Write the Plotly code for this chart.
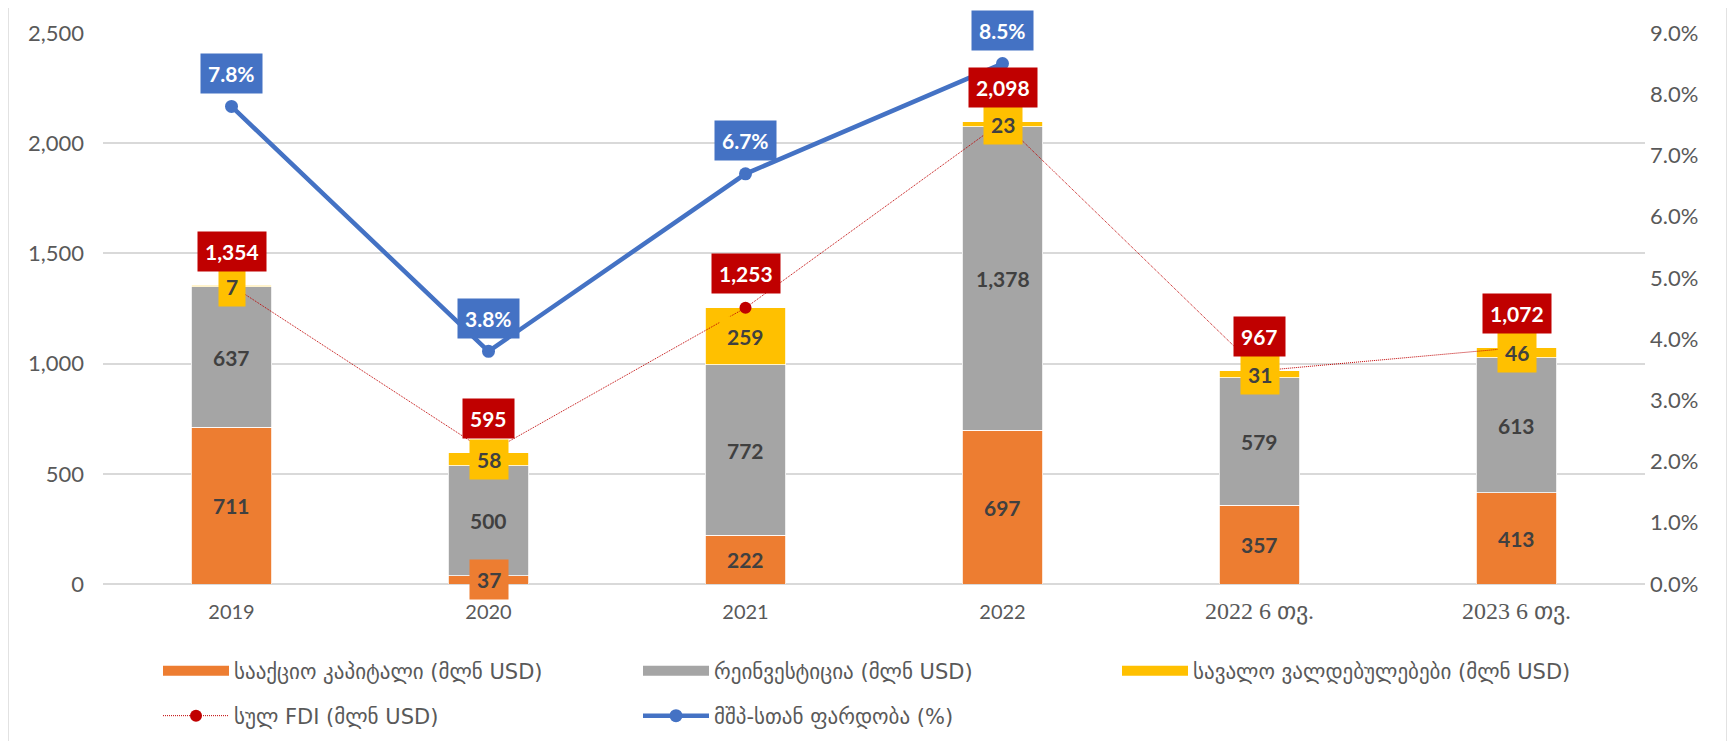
import plotly.graph_objects as go

categories = ["2019", "2020", "2021", "2022", "2022 6 თვ.", "2023 6 თვ."]
equity = [711, 37, 222, 697, 357, 413]
reinvest = [637, 500, 772, 1378, 579, 613]
debt = [7, 58, 259, 23, 31, 46]
total_fdi = [1354, 595, 1253, 2098, 967, 1072]
gdp_ratio = [7.8, 3.8, 6.7, 8.5, None, None]

names = ["სააქციო კაპიტალი (მლნ USD)", "რეინვესტიცია (მლნ USD)",
         "სავალო ვალდებულებები (მლნ USD)", "სულ FDI (მლნ USD)", "მშპ-სთან ფარდობა (%)"]

C_OR, C_GR, C_YE, C_RE, C_BL = "#ED7D31", "#A5A5A5", "#FFC000", "#C00000", "#4472C4"
NUMF = "Lato, 'Open Sans', sans-serif"
GEOF = "'DejaVu Sans', sans-serif"

# page is drawn with an 8px body margin
OFF = 8
W, H = 1735 - 2 * OFF, 749 - 2 * OFF
L, T = 103 - OFF, 33 - OFF
PW, PH = 1542, 551
def px(xp): return (xp - OFF - L) / PW
def py(yp): return (T + PH - (yp - OFF)) / PH

fig = go.Figure()
bar_legends = ["legend", "legend2", "legend3"]
for vals, col, nm in [(equity, C_OR, names[0]), (reinvest, C_GR, names[1]), (debt, C_YE, names[2])]:
    fig.add_trace(go.Bar(x=categories, y=vals, name=nm, marker_color=col,
                         marker_line=dict(color="white", width=0.8),
                         showlegend=False, hoverinfo="skip"))

fig.add_trace(go.Scatter(x=categories, y=total_fdi, name=names[3], mode="lines+markers",
                         line=dict(color=C_RE, width=1, dash="1px,1px"),
                         marker=dict(color=C_RE, size=12), legend="legend4", hoverinfo="skip"))
fig.add_trace(go.Scatter(x=categories, y=gdp_ratio, name=names[4], mode="lines+markers",
                         line=dict(color=C_BL, width=4.5), marker=dict(color=C_BL, size=13),
                         yaxis="y2", legend="legend5", hoverinfo="skip"))

# legend-only entries giving the wide bar swatches
for col, nm, lg in zip([C_OR, C_GR, C_YE], names[:3], bar_legends):
    fig.add_trace(go.Scatter(x=[None], y=[None], mode="lines", name=nm,
                             line=dict(color=col, width=15), legend=lg, hoverinfo="skip"))

ann = []
def lab(x, y, txt, bg=None, color="#404040", yref="y", yshift=0):
    d = dict(x=x, y=y, xref="x", yref=yref, text="<b>%s</b>" % txt, showarrow=False,
             font=dict(family=NUMF, size=21, color=color), yshift=yshift)
    if bg:
        d.update(bgcolor=bg, borderpad=7)
    ann.append(d)

for i, c in enumerate(categories):
    e, r, d = equity[i], reinvest[i], debt[i]
    lab(i, e / 2, f"{e:,}", bg=C_OR if e < 80 else None)
    lab(i, e + r / 2, f"{r:,}")
    lab(i, e + r + d / 2, f"{d:,}", bg=C_YE)
    lab(i, total_fdi[i], f"{total_fdi[i]:,}", bg=C_RE, color="white", yshift=34)
    if gdp_ratio[i] is not None:
        lab(i, gdp_ratio[i], f"{gdp_ratio[i]:.1f}%", bg=C_BL, color="white", yref="y2", yshift=33)

def ticklab(s):
    if any(ord(ch) > 127 for ch in s):
        return "<span style=\"font-family:'Liberation Serif', serif; font-size:24px\">%s</span>" % s
    return s

leg_common = dict(orientation="v", xanchor="left", yanchor="middle", bgcolor="rgba(0,0,0,0)",
                  font=dict(family=GEOF, size=21, color="#595959"), itemwidth=66)

fig.update_layout(
    width=W, height=H, barmode="stack", bargap=0.685, showlegend=True,
    plot_bgcolor="white", paper_bgcolor="white",
    margin=dict(l=L, r=W - L - PW, t=T, b=H - T - PH, autoexpand=False),
    font=dict(family=NUMF, color="#595959", size=21),
    xaxis=dict(type="category", categoryorder="array", categoryarray=categories,
               range=[-0.5, len(categories) - 0.5], autorange=False,
               tickmode="array", tickvals=categories,
               ticktext=[ticklab(c) for c in categories], tickangle=0,
               showgrid=False, showline=False, ticks="", ticklabelstandoff=14,
               tickfont=dict(size=20, color="#595959")),
    yaxis=dict(range=[0, 2500], dtick=500, tickformat=",", showgrid=True, gridcolor="#D9D9D9",
               gridwidth=1.5, zeroline=True, zerolinecolor="#D9D9D9", zerolinewidth=1.5,
               showline=False, ticks="", ticklabelstandoff=18, tickfont=dict(size=22)),
    yaxis2=dict(range=[0, 9], dtick=1, tickformat=".1f", ticksuffix="%", overlaying="y",
                side="right", showgrid=False, zeroline=False, showline=False, ticks="",
                ticklabelstandoff=4, tickfont=dict(size=22)),
    annotations=ann,
    legend=dict(leg_common, x=px(158), y=py(671)),
    legend2=dict(leg_common, x=px(638), y=py(671)),
    legend3=dict(leg_common, x=px(1117), y=py(671)),
    legend4=dict(leg_common, x=px(158), y=py(716)),
    legend5=dict(leg_common, x=px(638), y=py(716)),
    shapes=[dict(type="rect", xref="paper", yref="paper", x0=px(8), x1=px(1727),
                 y0=py(745), y1=py(4), line=dict(color="#D9D9D9", width=1.5),
                 fillcolor="rgba(0,0,0,0)", layer="below")],
)

fig.write_html("out.html")
